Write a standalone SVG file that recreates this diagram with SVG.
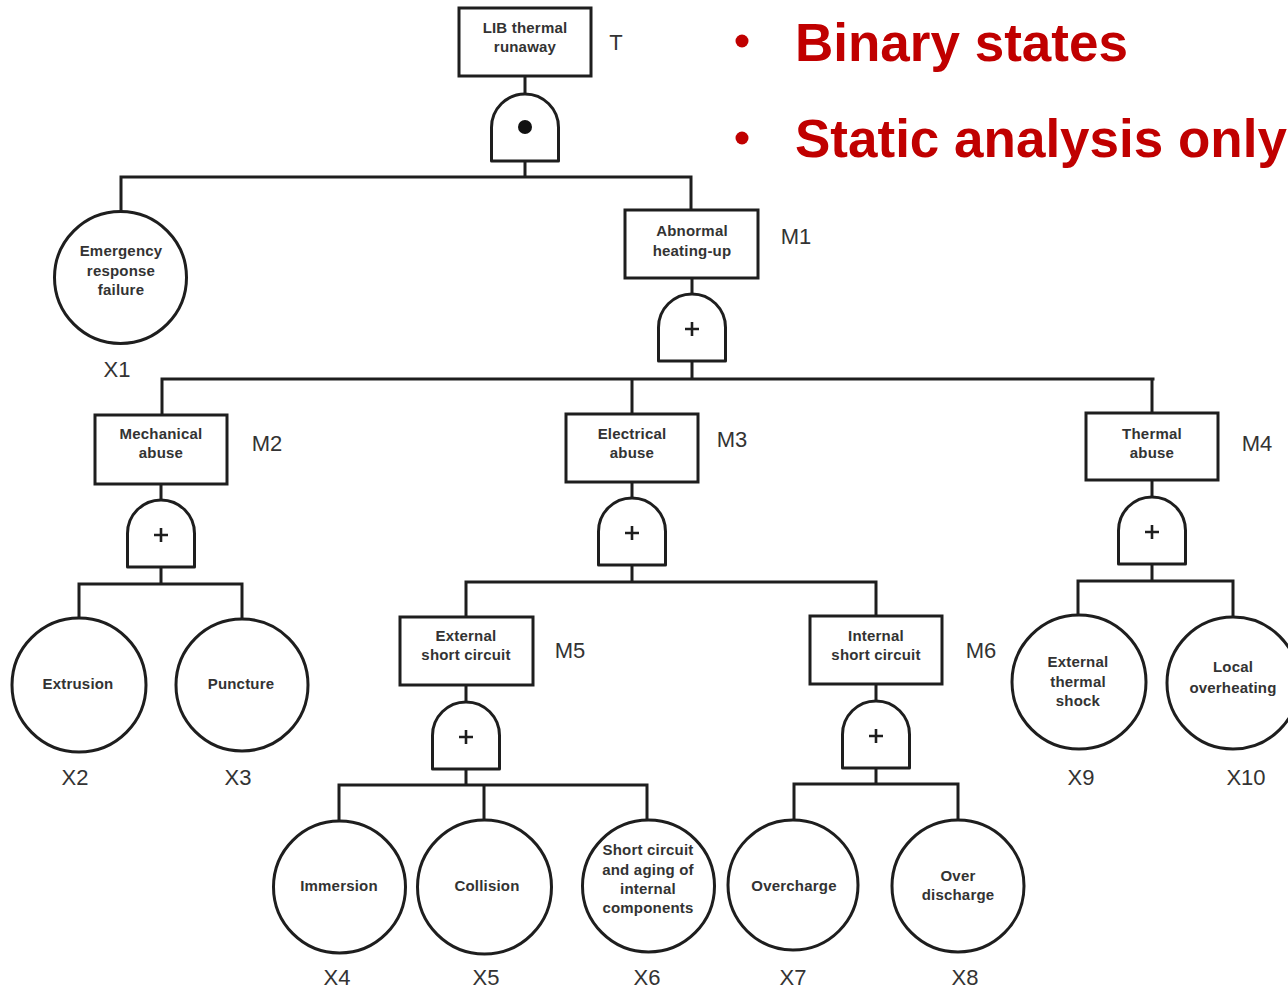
<svg xmlns="http://www.w3.org/2000/svg" width="1288" height="990" viewBox="0 0 1288 990">
  <style>
    .box { fill: #ffffff; stroke: #1e1e1e; stroke-width: 3; }
    .evt { fill: #ffffff; stroke: #1e1e1e; stroke-width: 3; }
    .gate { fill: #ffffff; stroke: #1e1e1e; stroke-width: 3; stroke-linejoin: round; }
    .sym { stroke: #1e1e1e; stroke-width: 2.6; fill: none; }
    .wire { fill: none; stroke: #1e1e1e; stroke-width: 3; stroke-linecap: square; }
    .t { font-family: "Liberation Sans", Arial, sans-serif; font-size: 15px; font-weight: bold; fill: #333333; text-anchor: middle; letter-spacing: 0.2px; }
    .id { font-family: "Liberation Sans", Arial, sans-serif; font-size: 22px; fill: #333333; text-anchor: middle; }
    .note { font-family: "Liberation Sans", Arial, sans-serif; font-size: 53px; font-weight: bold; fill: #c00000; }
  </style>
  <defs>
    <!-- gate body: 67 wide, 67 tall, rounded top, origin at top centre -->
    <path id="gateBody" d="M-33.5,67 L-33.5,33.5 A33.5,33.5 0 0 1 33.5,33.5 L33.5,67 Z"/>
    <g id="orGate">
      <use href="#gateBody" class="gate"/>
      <path class="sym" d="M-7,35 H7 M0,28 V42"/>
    </g>
    <g id="andGate">
      <use href="#gateBody" class="gate"/>
      <circle cx="0" cy="33" r="7" fill="#111111"/>
    </g>
  </defs>

  <!-- connectors -->
  <g id="connectors">
    <path class="wire" d="M525,76 V94 M525,161 V177 M121,177 H691 M121,177 V210 M691,177 V210"/>
    <path class="wire" d="M692,278 V294 M692,361 V379 M162,379 H1153 M162,379 V415 M632,379 V414 M1152,379 V413"/>
    <path class="wire" d="M161,484 V500 M161,567 V584 M79,584 H242 M79,584 V618 M242,584 V619"/>
    <path class="wire" d="M632,482 V498 M632,565 V582 M466,582 H876 M466,582 V617 M876,582 V616"/>
    <path class="wire" d="M1152,480 V497 M1152,564 V581 M1078,581 H1233 M1078,581 V615 M1233,581 V617"/>
    <path class="wire" d="M466,685 V702 M466,769 V785 M339,785 H647 M339,785 V821 M484,785 V820 M647,785 V820"/>
    <path class="wire" d="M876,684 V701 M876,768 V784 M794,784 H958 M794,784 V820 M958,784 V820"/>
  </g>

  <!-- top event -->
  <g id="T">
    <rect class="box" x="459" y="8" width="132" height="68"/>
    <text class="t" x="525" y="33">LIB thermal</text>
    <text class="t" x="525" y="52">runaway</text>
    <text class="id" x="616" y="50">T</text>
    <use href="#andGate" x="525" y="94"/>
  </g>

  <g id="X1">
    <circle class="evt" cx="120.5" cy="277.5" r="66"/>
    <text class="t" x="121" y="256">Emergency</text>
    <text class="t" x="121" y="276">response</text>
    <text class="t" x="121" y="295">failure</text>
    <text class="id" x="117" y="377">X1</text>
  </g>

  <g id="M1">
    <rect class="box" x="625" y="210" width="133" height="68"/>
    <text class="t" x="692" y="236">Abnormal</text>
    <text class="t" x="692" y="256">heating-up</text>
    <text class="id" x="796" y="244">M1</text>
    <use href="#orGate" x="692" y="294"/>
  </g>

  <g id="M2">
    <rect class="box" x="95" y="415" width="132" height="69"/>
    <text class="t" x="161" y="439">Mechanical</text>
    <text class="t" x="161" y="458">abuse</text>
    <text class="id" x="267" y="451">M2</text>
    <use href="#orGate" x="161" y="500"/>
  </g>

  <g id="M3">
    <rect class="box" x="566" y="414" width="132" height="68"/>
    <text class="t" x="632" y="439">Electrical</text>
    <text class="t" x="632" y="458">abuse</text>
    <text class="id" x="732" y="447">M3</text>
    <use href="#orGate" x="632" y="498"/>
  </g>

  <g id="M4">
    <rect class="box" x="1086" y="413" width="132" height="67"/>
    <text class="t" x="1152" y="439">Thermal</text>
    <text class="t" x="1152" y="458">abuse</text>
    <text class="id" x="1257" y="451">M4</text>
    <use href="#orGate" x="1152" y="497"/>
  </g>

  <g id="X2">
    <circle class="evt" cx="79" cy="685" r="67"/>
    <text class="t" x="78" y="689">Extrusion</text>
    <text class="id" x="75" y="785">X2</text>
  </g>

  <g id="X3">
    <circle class="evt" cx="242" cy="685" r="66"/>
    <text class="t" x="241" y="689">Puncture</text>
    <text class="id" x="238" y="785">X3</text>
  </g>

  <g id="M5">
    <rect class="box" x="400" y="617" width="133" height="68"/>
    <text class="t" x="466" y="641">External</text>
    <text class="t" x="466" y="660">short circuit</text>
    <text class="id" x="570" y="658">M5</text>
    <use href="#orGate" x="466" y="702"/>
  </g>

  <g id="M6">
    <rect class="box" x="810" y="616" width="132" height="68"/>
    <text class="t" x="876" y="641">Internal</text>
    <text class="t" x="876" y="660">short circuit</text>
    <text class="id" x="981" y="658">M6</text>
    <use href="#orGate" x="876" y="701"/>
  </g>

  <g id="X9">
    <circle class="evt" cx="1079" cy="682" r="67"/>
    <text class="t" x="1078" y="667">External</text>
    <text class="t" x="1078" y="687">thermal</text>
    <text class="t" x="1078" y="706">shock</text>
    <text class="id" x="1081" y="785">X9</text>
  </g>

  <g id="X10">
    <circle class="evt" cx="1233" cy="683" r="66"/>
    <text class="t" x="1233" y="672">Local</text>
    <text class="t" x="1233" y="693">overheating</text>
    <text class="id" x="1246" y="785">X10</text>
  </g>

  <g id="X4">
    <circle class="evt" cx="339.5" cy="887" r="66"/>
    <text class="t" x="339" y="891">Immersion</text>
    <text class="id" x="337" y="985">X4</text>
  </g>

  <g id="X5">
    <circle class="evt" cx="484.5" cy="887" r="67"/>
    <text class="t" x="487" y="891">Collision</text>
    <text class="id" x="486" y="985">X5</text>
  </g>

  <g id="X6">
    <circle class="evt" cx="648.5" cy="886" r="66"/>
    <text class="t" x="648" y="855">Short circuit</text>
    <text class="t" x="648" y="875">and aging of</text>
    <text class="t" x="648" y="894">internal</text>
    <text class="t" x="648" y="913">components</text>
    <text class="id" x="647" y="985">X6</text>
  </g>

  <g id="X7">
    <circle class="evt" cx="793" cy="885" r="65"/>
    <text class="t" x="794" y="891">Overcharge</text>
    <text class="id" x="793" y="985">X7</text>
  </g>

  <g id="X8">
    <circle class="evt" cx="958" cy="886" r="66"/>
    <text class="t" x="958" y="881">Over</text>
    <text class="t" x="958" y="900">discharge</text>
    <text class="id" x="965" y="985">X8</text>
  </g>

  <!-- bullet notes -->
  <g id="notes">
    <circle cx="742" cy="41" r="6.5" fill="#c00000"/>
    <text class="note" x="795" y="61">Binary states</text>
    <circle cx="742" cy="138" r="6.5" fill="#c00000"/>
    <text class="note" x="795" y="157">Static analysis only</text>
  </g>
</svg>
